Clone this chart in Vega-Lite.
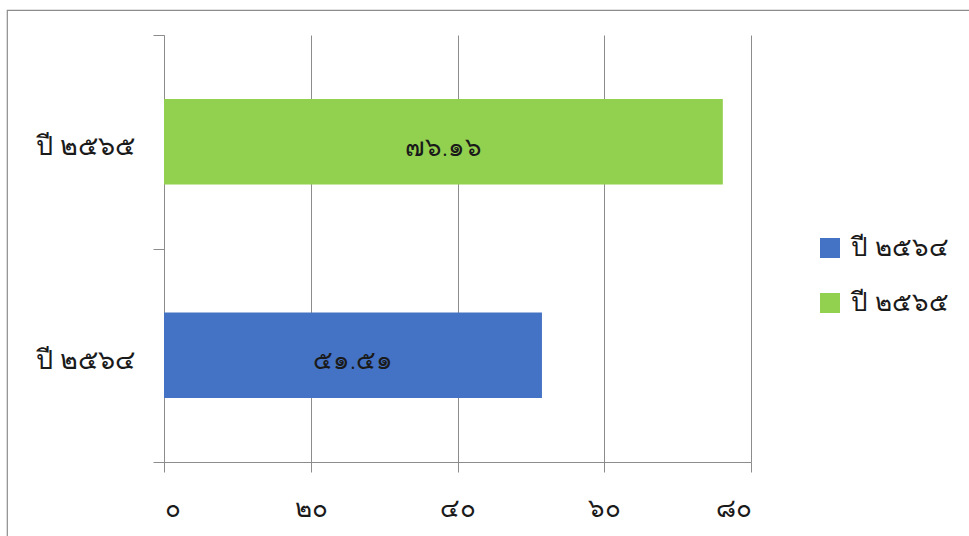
{
  "$schema": "https://vega.github.io/schema/vega-lite/v6.json",
  "width": 970,
  "height": 535,
  "autosize": {"type": "none"},
  "padding": {"left": 7, "top": 10, "right": 0, "bottom": 0},
  "background": "white",
  "config": {"view": {"stroke": "#8c8c8c", "strokeWidth": 1.2}, "font": "Noto Sans"},
  "data": {"values": [
    {"year": "ปี ๒๕๖๔", "value": 51.51, "label": "๕๑.๕๑"},
    {"year": "ปี ๒๕๖๕", "value": 76.16, "label": "๗๖.๑๖"}
  ]},
  "encoding": {
    "y": {
      "field": "year", "type": "nominal",
      "sort": ["ปี ๒๕๖๕", "ปี ๒๕๖๔"],
      "scale": {"range": [25, 452], "paddingInner": 0, "paddingOuter": 0},
      "axis": {
        "orient": "left", "offset": -157, "title": null, "grid": false,
        "domainColor": "#8c8c8c", "tickColor": "#8c8c8c", "tickSize": 11, "tickBand": "extent",
        "labelFontSize": 27, "labelFontWeight": 300, "labelPadding": 18, "labelColor": "#1a1a1a", "labelOffset": 5
      }
    }
  },
  "layer": [
    {
      "mark": {"type": "bar", "height": {"band": 0.4}},
      "encoding": {
        "x": {
          "field": "value", "type": "quantitative",
          "scale": {"domain": [0, 80], "range": [157, 744], "nice": false},
          "axis": {
            "orient": "bottom", "offset": -83, "title": null, "grid": false,
            "values": [0, 20, 40, 60, 80], "tickSize": 10,
            "domainColor": "#8c8c8c", "tickColor": "#8c8c8c",
            "labelExpr": "datum.value == 0 ? '๐' : datum.value == 20 ? '๒๐' : datum.value == 40 ? '๔๐' : datum.value == 60 ? '๖๐' : '๘๐'",
            "labelFontSize": 26, "labelFontWeight": 300, "labelPadding": 23, "labelColor": "#1a1a1a"
          }
        },
        "color": {
          "field": "year", "type": "nominal",
          "scale": {"domain": ["ปี ๒๕๖๔", "ปี ๒๕๖๕"], "range": ["#4472C4", "#92D050"]},
          "legend": {
            "orient": "none", "legendX": 810, "legendY": 225, "title": null,
            "symbolType": "square", "symbolSize": 400, "symbolStrokeWidth": 0,
            "labelFontSize": 26, "labelFontWeight": 300, "rowPadding": 29, "labelColor": "#1a1a1a", "labelOffset": 8
          }
        }
      }
    },
    {
      "mark": {"type": "text", "fontSize": 26, "fontWeight": 300, "color": "#1a1a1a", "dy": 6},
      "encoding": {
        "x": {
          "field": "value", "type": "quantitative", "stack": "zero", "bandPosition": 0.5,
          "scale": {"domain": [0, 80], "range": [157, 744], "nice": false},
          "axis": {
            "orient": "top", "offset": -25, "title": null, "grid": false, "domain": false, "labels": false,
            "values": [0, 20, 40, 60, 80], "tickSize": -427, "tickColor": "#8c8c8c"
          }
        },
        "text": {"field": "label"}
      }
    }
  ],
  "resolve": {"axis": {"x": "independent"}}
}
